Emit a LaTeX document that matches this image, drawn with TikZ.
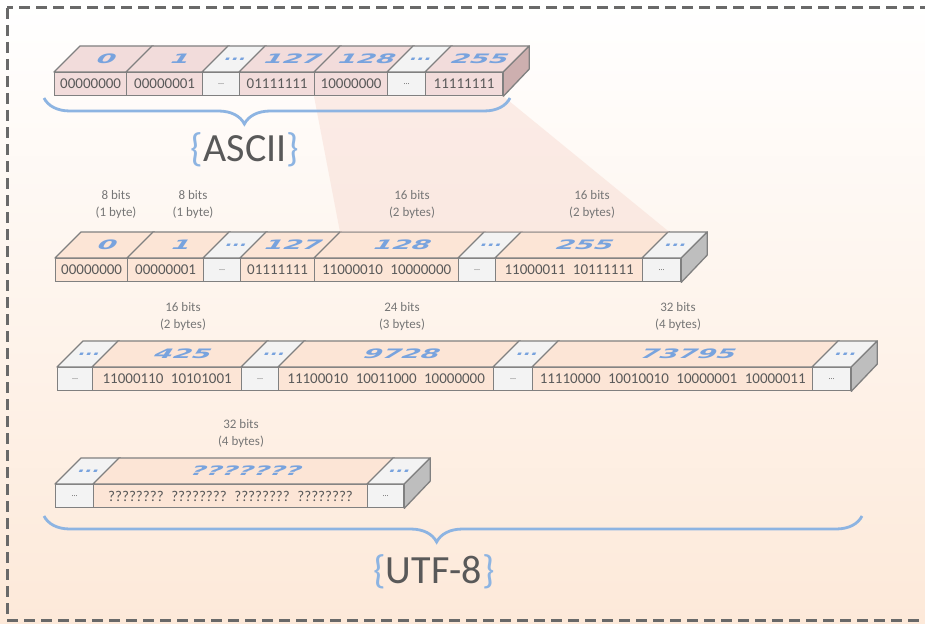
\documentclass[tikz,border=0pt]{standalone}
\usepackage{fontspec}
\usepackage{graphicx}
\setmainfont{Carlito}
\newfontfamily\numfont[FakeSlant=0.32]{DejaVu Sans Bold}
\usetikzlibrary{decorations.pathreplacing, calc}

\definecolor{edge}{RGB}{128,128,128}
\definecolor{frame}{RGB}{105,105,105}
\definecolor{ink}{RGB}{89,89,89}
\definecolor{bitsgray}{RGB}{118,118,118}
\definecolor{numblue}{RGB}{120,163,222}
\definecolor{braceblue}{RGB}{141,180,226}
\definecolor{bgpeach}{RGB}{253,233,217}
\definecolor{asc}{RGB}{242,220,219}
\definecolor{utf}{RGB}{252,229,214}
\definecolor{gap}{RGB}{243,243,243}
\definecolor{ascside}{RGB}{205,175,175}
\definecolor{utfside}{RGB}{190,190,190}
\definecolor{zoompink}{RGB}{245,212,202}

\newcommand\dotsup{\raisebox{-3pt}{\scalebox{0.7}[1]{...}}}
\newcommand\dotslow{{\fontsize{8}{8}\selectfont...}}

\begin{document}
\begin{tikzpicture}[x=1pt, y=-1pt,
  cell/.style={draw=edge, line width=1.3pt, inner sep=0pt, minimum height=23pt,
               anchor=north west, text=ink, font=\fontsize{15}{17}\selectfont},
  face/.style={draw=edge, line width=1.3pt, line join=round},
  num/.style={text=numblue, inner sep=0pt, font=\numfont\fontsize{13}{13}\selectfont},
  bits/.style={text=bitsgray, align=center, font=\fontsize{13}{17}\selectfont},
  title/.style={text=ink, font=\fontsize{40}{44}\selectfont},
  bracepen/.style={draw=braceblue, line width=2.8pt, decorate,
                   decoration={brace, mirror, amplitude=26pt, aspect=#1}}
]
  \useasboundingbox (0,0) rectangle (925,623);
  % Background and frame
  \shade[top color=white, middle color=bgpeach!80, bottom color=bgpeach]
        (0,0) rectangle (925,623);
  \draw[frame, line width=3pt, dash pattern=on 11pt off 6pt] (7,8) rectangle (945,620);

  % ASCII row
  \foreach \nm/\xa/\xb/\fc/\up/\low in {
      a1/54/126/asc/0/00000000, a2/126/202/asc/1/00000001,
      a3/202/239/gap/\dotsup/\dotslow, a4/239/314/asc/127/01111111,
      a5/314/387/asc/128/10000000, a6/387/425/gap/\dotsup/\dotslow,
      a7/425/502/asc/255/11111111} {
    \node[cell, fill=\fc, minimum width=\xb pt-\xa pt] (\nm) at (\xa,72) {\low};
    \filldraw[face, fill=\fc] (\nm.north west) -- ++(26,-26)
        -- ([shift={(26,-26)}]\nm.north east) -- (\nm.north east) -- cycle;
    \node[num] at ([shift={(13,-13)}]\nm.north) {\scalebox{2.1}[1]{\up}};
  }
  \filldraw[face, fill=ascside] (a7.north east) -- ++(26,-26) -- ++(0,23)
      -- (a7.south east) -- cycle;

  % UTF-8 row, 1 and 2 bytes
  \foreach \nm/\xa/\xb/\fc/\up/\low in {
      b1/55/127/utf/0/00000000, b2/127/203/utf/1/00000001,
      b3/203/240/gap/\dotsup/\dotslow, b4/240/314/utf/127/01111111,
      b5/314/458/utf/128/11000010\enspace10000000, b6/458/495/gap/\dotsup/\dotslow,
      b7/495/642/utf/255/11000011\enspace10111111, b8/642/680/gap/\dotsup/\dotslow} {
    \node[cell, fill=\fc, minimum width=\xb pt-\xa pt] (\nm) at (\xa,258) {\low};
    \filldraw[face, fill=\fc] (\nm.north west) -- ++(26,-26)
        -- ([shift={(26,-26)}]\nm.north east) -- (\nm.north east) -- cycle;
    \node[num] at ([shift={(13,-13)}]\nm.north) {\scalebox{2.1}[1]{\up}};
  }
  \filldraw[face, fill=utfside] (b8.north east) -- ++(26,-26) -- ++(0,23)
      -- (b8.south east) -- cycle;

  % UTF-8 row, 2 to 4 bytes
  \foreach \nm/\xa/\xb/\fc/\up/\low in {
      c1/57/92/gap/\dotsup/\dotslow, c2/92/241/utf/425/11000110\enspace10101001,
      c3/241/278/gap/\dotsup/\dotslow,
      c4/278/493/utf/9728/11100010\enspace10011000\enspace10000000,
      c5/493/532/gap/\dotsup/\dotslow,
      c6/532/812/utf/73795/11110000\enspace10010010\enspace10000001\enspace10000011,
      c7/812/850/gap/\dotsup/\dotslow} {
    \node[cell, fill=\fc, minimum width=\xb pt-\xa pt] (\nm) at (\xa,367) {\low};
    \filldraw[face, fill=\fc] (\nm.north west) -- ++(26,-26)
        -- ([shift={(26,-26)}]\nm.north east) -- (\nm.north east) -- cycle;
    \node[num] at ([shift={(13,-13)}]\nm.north) {\scalebox{2.1}[1]{\up}};
  }
  \filldraw[face, fill=utfside] (c7.north east) -- ++(26,-26) -- ++(0,23)
      -- (c7.south east) -- cycle;

  % UTF-8 row, unknown
  \foreach \nm/\xa/\xb/\fc/\up/\low in {
      d1/55/93/gap/\dotsup/\dotslow,
      d2/93/367/utf/???????/????????\enspace????????\enspace????????\enspace????????,
      d3/367/403/gap/\dotsup/\dotslow} {
    \node[cell, fill=\fc, minimum width=\xb pt-\xa pt] (\nm) at (\xa,484) {\low};
    \filldraw[face, fill=\fc] (\nm.north west) -- ++(26,-26)
        -- ([shift={(26,-26)}]\nm.north east) -- (\nm.north east) -- cycle;
    \node[num] at ([shift={(13,-13)}]\nm.north) {\scalebox{2.1}[1]{\up}};
  }
  \filldraw[face, fill=utfside] (d3.north east) -- ++(26,-26) -- ++(0,23)
      -- (d3.south east) -- cycle;

  % Zoom from ASCII 128..255 onto the UTF-8 row
  \fill[zoompink, opacity=0.4] (a5.south west) -- (a7.south east)
      -- ([shift={(26,-26)}]b7.north east) -- ([shift={(26,-26)}]b5.north west) -- cycle;

  % Braces and titles
  \coordinate (asciiL) at (44,98);
  \coordinate (asciiR) at (510,98);
  \coordinate (utfL)   at (44,516);
  \coordinate (utfR)   at (862,516);
  \draw[bracepen=0.43] (asciiL) -- (asciiR);
  \draw[bracepen=0.48] (utfL) -- (utfR);
  \node[title] (ascii) at (245,150)
      {\textcolor{braceblue}{\{}ASCII\textcolor{braceblue}{\}}};
  \node[title] (utf8) at (434,572)
      {\textcolor{braceblue}{\{}UTF-8\textcolor{braceblue}{\}}};

  % Sizes
  \node[bits] (s1) at (116,205) {8 bits\\(1 byte)};
  \node[bits] (s2) at (193,205) {8 bits\\(1 byte)};
  \node[bits] (s3) at (412,205) {16 bits\\(2 bytes)};
  \node[bits] (s4) at (592,205) {16 bits\\(2 bytes)};
  \node[bits] (s5) at (183,317) {16 bits\\(2 bytes)};
  \node[bits] (s6) at (402,317) {24 bits\\(3 bytes)};
  \node[bits] (s7) at (678,317) {32 bits\\(4 bytes)};
  \node[bits] (s8) at (241,434) {32 bits\\(4 bytes)};
\end{tikzpicture}
\end{document}
